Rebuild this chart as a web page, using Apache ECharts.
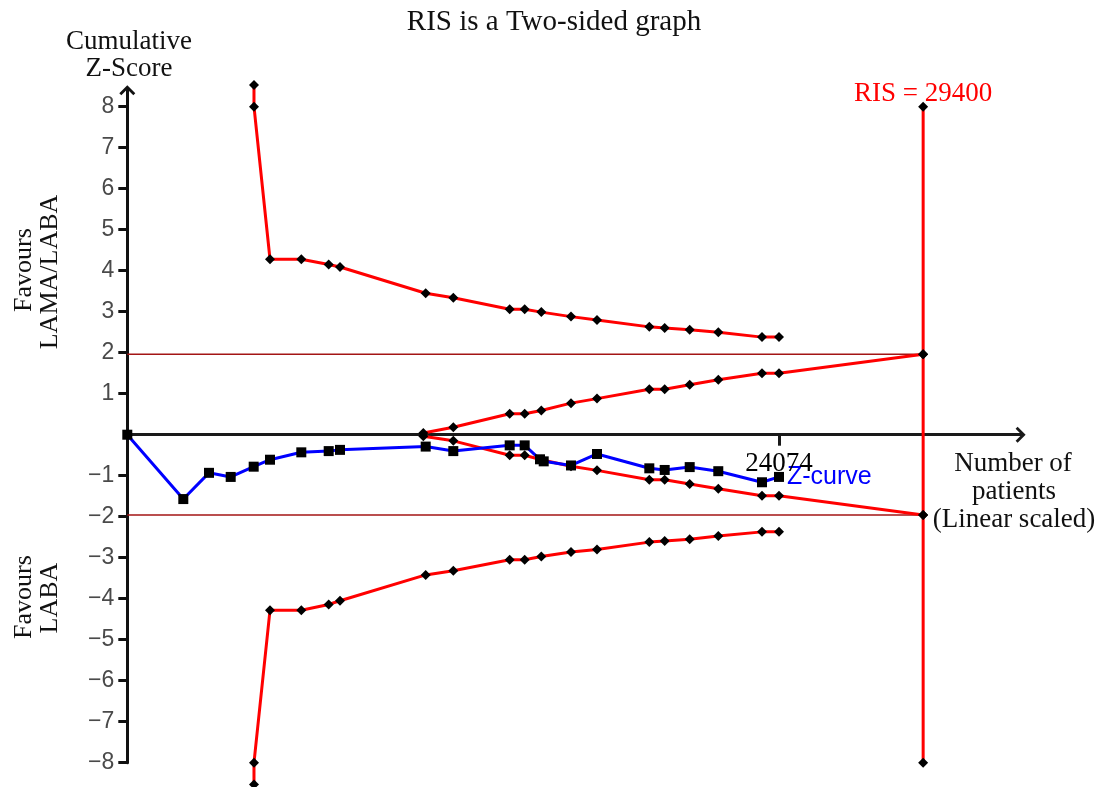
<!DOCTYPE html>
<html>
<head>
<meta charset="utf-8">
<script src="https://cdn.jsdelivr.net/npm/echarts@6/dist/echarts.min.js"></script>
<style>
html,body{margin:0;padding:0;background:#fff;}
#chart{width:1108px;height:787px;}
</style>
</head>
<body>
<div id="chart"></div>
<script>
// ---- data ----
var RIS = 29400;
var sigLevel = 1.96;
var xTickValues = [24074];
var yTickValues = [-8, -7, -6, -5, -4, -3, -2, -1, 1, 2, 3, 4, 5, 6, 7, 8];

var boundN = [4680, 4680, 5272, 6428, 7440, 7857, 11023, 12043, 14126, 14680, 15294, 16391, 17351, 19284, 19852, 20776, 21832, 23446, 24074];
var upperOuter = [8.53, 8.0, 4.28, 4.28, 4.15, 4.09, 3.45, 3.34, 3.06, 3.06, 2.99, 2.88, 2.80, 2.63, 2.60, 2.56, 2.50, 2.38, 2.38];
var lowerOuter = [-8.53, -8.0, -4.28, -4.28, -4.14, -4.05, -3.42, -3.32, -3.05, -3.05, -2.97, -2.86, -2.80, -2.62, -2.59, -2.55, -2.47, -2.37, -2.37];

var innerN = [10935, 12043, 14126, 14680, 15294, 16391, 17351, 19284, 19852, 20776, 21832, 23446, 24074, 29400];
var upperInner = [0.04, 0.18, 0.51, 0.51, 0.59, 0.77, 0.88, 1.11, 1.11, 1.22, 1.34, 1.50, 1.50, 1.96];
var lowerInner = [-0.04, -0.15, -0.50, -0.50, -0.61, -0.77, -0.87, -1.10, -1.10, -1.20, -1.32, -1.49, -1.49, -1.96];

var zN = [0, 2069, 3018, 3820, 4669, 5272, 6428, 7440, 7857, 11023, 12043, 14126, 14680, 15246, 15383, 16391, 17351, 19284, 19852, 20776, 21832, 23446, 24074];
var zScore = [0, -1.57, -0.93, -1.03, -0.78, -0.61, -0.43, -0.40, -0.37, -0.29, -0.40, -0.26, -0.26, -0.60, -0.65, -0.75, -0.47, -0.82, -0.86, -0.79, -0.89, -1.16, -1.03];

var risN = [29400, 29400, 29400, 29400];
var risZ = [8, 1.96, -1.96, -8];

function pairs(xs, ys) { return xs.map(function (x, i) { return [x, ys[i]]; }); }

var SERIF = 'Liberation Serif';
var SANS = 'Liberation Sans';
var chevron = 'path://M0,10 L10,0 L20,10 L17.5,12.5 L10,5 L2.5,12.5 Z';

var boundaryStyle = {
  type: 'line', symbol: 'diamond', symbolSize: 10, clip: false, z: 3,
  lineStyle: { color: '#ff0000', width: 3 },
  itemStyle: { color: '#000' }, animation: false
};

var chart = echarts.init(document.getElementById('chart'));
chart.setOption({
  animation: false,
  backgroundColor: '#fff',
  grid: { left: 127.3, top: 90.3, width: 893.3, height: 672.4, outerBoundsMode: 'none' },
  xAxis: {
    type: 'value', min: 0, max: 33000,
    axisLine: { show: true, onZero: true, lineStyle: { color: '#1a1a1a', width: 3 }, symbol: ['none', chevron], symbolSize: [16, 12] },
    axisTick: { show: true, length: 11, lineStyle: { color: '#1a1a1a', width: 3 }, customValues: xTickValues },
    axisLabel: { show: false },
    splitLine: { show: false }
  },
  yAxis: {
    type: 'value', min: -8, max: 8.4,
    axisLine: { show: true, onZero: false, lineStyle: { color: '#111', width: 3 }, symbol: ['none', chevron], symbolSize: [16, 12] },
    axisTick: { show: true, length: 9, lineStyle: { color: '#111', width: 3 }, customValues: yTickValues },
    axisLabel: {
      show: true, margin: 13, fontFamily: SANS, fontSize: 23, color: '#4a4a4a', customValues: yTickValues,
      formatter: function (v) { return v < 0 ? '\u2212' + (-v) : String(v); }
    },
    splitLine: { show: false }
  },
  series: [
    { type: 'line', symbol: 'none', z: 1, animation: false, lineStyle: { color: '#a31515', width: 1.5 },
      data: [[0, sigLevel], [RIS, sigLevel]] },
    { type: 'line', symbol: 'none', z: 1, animation: false, lineStyle: { color: '#a31515', width: 1.5 },
      data: [[0, -sigLevel], [RIS, -sigLevel]] },
    Object.assign({}, boundaryStyle, { data: pairs(boundN, upperOuter) }),
    Object.assign({}, boundaryStyle, { data: pairs(boundN, lowerOuter) }),
    Object.assign({}, boundaryStyle, { data: pairs(innerN, upperInner) }),
    Object.assign({}, boundaryStyle, { data: pairs(innerN, lowerInner) }),
    Object.assign({}, boundaryStyle, {
      data: pairs(risN, risZ).map(function (p, i) {
        return i === 0 ? { value: p, label: { show: true, position: 'top', distance: -6, formatter: 'RIS = ' + RIS, fontFamily: SERIF, fontSize: 27, color: '#ff0000' } } : p;
      })
    }),
    { type: 'line', symbol: 'rect', symbolSize: 10, z: 5, clip: false, animation: false,
      lineStyle: { color: '#0000ff', width: 3 }, itemStyle: { color: '#000' },
      data: pairs(zN, zScore).map(function (p, i, arr) {
        return i === arr.length - 1 ? { value: p, label: { show: true, position: 'right', distance: 3, formatter: 'Z-curve', fontFamily: SANS, fontSize: 25, color: '#0000ff' } } : p;
      })
    },
    // x-axis tick label placed through the axis scale
    { type: 'scatter', symbol: 'circle', symbolSize: 1, z: 6, animation: false, silent: true,
      itemStyle: { color: 'rgba(0,0,0,0)' },
      data: xTickValues.map(function (v) { return [v, 0]; }),
      label: { show: true, position: 'bottom', distance: 15, fontFamily: SERIF, fontSize: 27, color: '#000', opacity: 1,
        formatter: function (p) { return String(p.value[0]); } }
    }
  ],
  graphic: [
    { type: 'text', left: 'center', top: 8, style: { text: 'RIS is a Two-sided graph', font: '29px "Liberation Serif"', fill: '#111' } },
    { type: 'text', x: 129, y: 42, style: { text: 'Cumulative', font: '27px "Liberation Serif"', fill: '#111', textAlign: 'center', textVerticalAlign: 'middle' } },
    { type: 'text', x: 129, y: 69, style: { text: 'Z-Score', font: '27px "Liberation Serif"', fill: '#111', textAlign: 'center', textVerticalAlign: 'middle' } },
    { type: 'text', x: 24, y: 270, rotation: Math.PI / 2, style: { text: 'Favours', font: '26px "Liberation Serif"', fill: '#111', textAlign: 'center', textVerticalAlign: 'middle' } },
    { type: 'text', x: 50, y: 272, rotation: Math.PI / 2, style: { text: 'LAMA/LABA', font: '26px "Liberation Serif"', fill: '#111', textAlign: 'center', textVerticalAlign: 'middle' } },
    { type: 'text', x: 24, y: 597, rotation: Math.PI / 2, style: { text: 'Favours', font: '26px "Liberation Serif"', fill: '#111', textAlign: 'center', textVerticalAlign: 'middle' } },
    { type: 'text', x: 50, y: 598, rotation: Math.PI / 2, style: { text: 'LABA', font: '26px "Liberation Serif"', fill: '#111', textAlign: 'center', textVerticalAlign: 'middle' } },
    { type: 'text', x: 1013, y: 464, style: { text: 'Number of', font: '27px "Liberation Serif"', fill: '#111', textAlign: 'center', textVerticalAlign: 'middle' } },
    { type: 'text', x: 1014, y: 492, style: { text: 'patients', font: '27px "Liberation Serif"', fill: '#111', textAlign: 'center', textVerticalAlign: 'middle' } },
    { type: 'text', x: 1014, y: 520, style: { text: '(Linear scaled)', font: '27px "Liberation Serif"', fill: '#111', textAlign: 'center', textVerticalAlign: 'middle' } }
  ]
});
</script>
</body>
</html>
